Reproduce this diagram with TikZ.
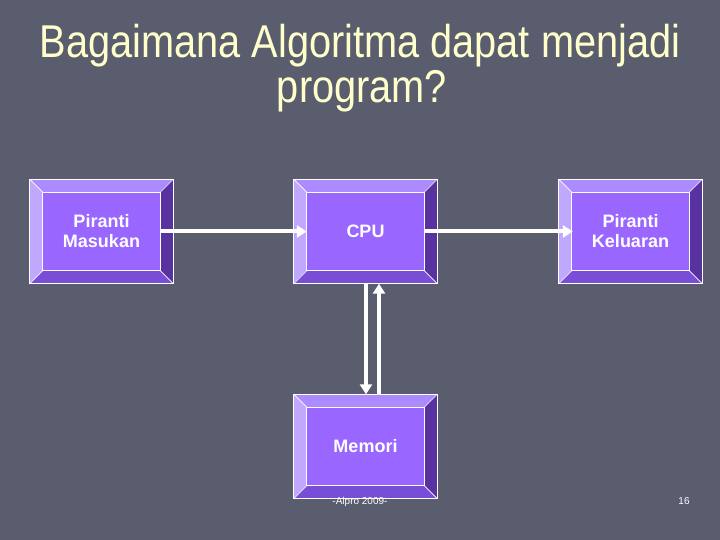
\documentclass[tikz,border=0pt]{standalone}
\usepackage{fontspec}
\setmainfont{Liberation Sans}
\usetikzlibrary{calc,arrows.meta}
\pgfdeclarelayer{bg}\pgfdeclarelayer{mid}\pgfsetlayers{bg,mid,main}
\definecolor{bgc}{RGB}{90,93,110}
\definecolor{facec}{RGB}{153,102,255}
\definecolor{topb}{RGB}{172,138,255}
\definecolor{leftb}{RGB}{192,168,255}
\definecolor{rightb}{RGB}{88,50,158}
\definecolor{botb}{RGB}{120,78,214}
\definecolor{titlec}{RGB}{255,255,204}
\newcommand{\bevelbox}[1]{%
 \begin{pgfonlayer}{mid}
 \coordinate (#1-a) at ($(#1.north west)+(13,-13)$);
 \coordinate (#1-b) at ($(#1.north east)+(-13,-13)$);
 \coordinate (#1-c) at ($(#1.south east)+(-13,13)$);
 \coordinate (#1-d) at ($(#1.south west)+(13,13)$);
 \fill[facec] (#1-a) rectangle (#1-c);
 \fill[topb] (#1.north west) -- (#1.north east) -- (#1-b) -- (#1-a) -- cycle;
 \fill[leftb] (#1.north west) -- (#1-a) -- (#1-d) -- (#1.south west) -- cycle;
 \fill[rightb] (#1.north east) -- (#1.south east) -- (#1-c) -- (#1-b) -- cycle;
 \fill[botb] (#1.south west) -- (#1-d) -- (#1-c) -- (#1.south east) -- cycle;
 \draw[edgeline] (#1.north west) rectangle (#1.south east);
 \draw[edgeline] (#1-a) rectangle (#1-c);
 \draw[edgeline] (#1.north west) -- (#1-a) (#1.north east) -- (#1-b)
   (#1.south east) -- (#1-c) (#1.south west) -- (#1-d);
 \end{pgfonlayer}}
\tikzset{
 edgeline/.style={white, line width=0.7pt},
 boxnode/.style={rectangle, minimum width=143pt, minimum height=104pt, inner sep=0pt,
   text=white, align=center, font=\bfseries\fontsize{18}{20}\selectfont},
 flow/.style={white, line width=4pt, -{Triangle[length=10pt,width=12pt]}},
 titletext/.style={text=titlec, inner sep=0pt, anchor=base, font=\fontsize{46}{50}\selectfont},
 foot/.style={text=white, inner sep=0pt, anchor=base, font=\fontsize{10}{12}\selectfont}
}
\begin{document}
\begin{tikzpicture}[x=1pt,y=1pt]
\begin{pgfonlayer}{bg}
\fill[bgc] (0,0) rectangle (720,540);
\end{pgfonlayer}
\useasboundingbox (0,0) rectangle (720,540);

\node[titletext] (t1) at (360,482) {\scalebox{0.864}[1]{Bagaimana Algoritma dapat menjadi}};
\node[titletext] (t2) at (362,437) {\scalebox{0.864}[1]{program?}};

\node[boxnode] (mas) at (101.5,308.5) {Piranti\\Masukan};
\node[boxnode] (cpu) at (365.5,308.5) {CPU};
\node[boxnode] (kel) at (630.5,308.5) {Piranti\\Keluaran};
\node[boxnode] (mem) at (365.5,93.5) {Memori};
\bevelbox{mas}\bevelbox{cpu}\bevelbox{kel}\bevelbox{mem}

\draw[flow] ($(mas.east)+(-12,0)$) -- ($(cpu.west)+(13,0)$);
\draw[flow] ($(cpu.east)+(-13,0)$) -- ($(kel.west)+(14,0)$);
\draw[flow] ($(cpu.south)+(0.5,0)$) -- ($(mem.north)+(0.5,0)$);
\draw[flow] ($(mem.north)+(13.5,0)$) -- ($(cpu.south)+(13.5,0)$);

\node[foot] (f1) at (360,35) {-Alpro 2009-};
\node[foot] (f2) at (684,35) {16};
\end{tikzpicture}
\end{document}
